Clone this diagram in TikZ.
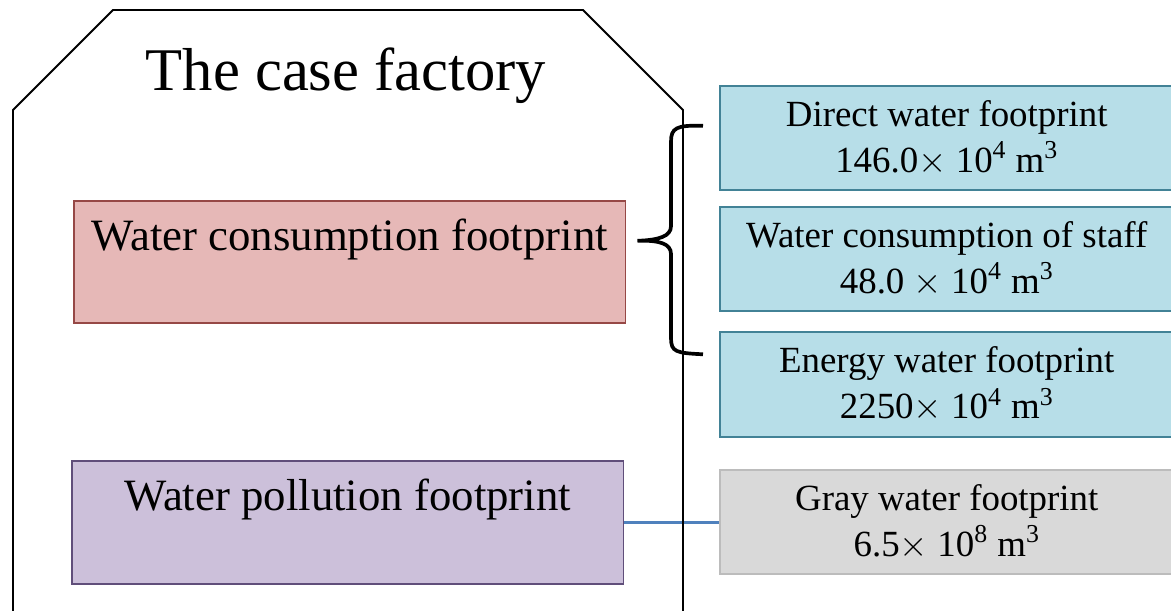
\documentclass[tikz,border=0pt]{standalone}
\usepackage{fontspec}
\setmainfont{Liberation Serif}
\usetikzlibrary{positioning,calc}

\definecolor{consfill}{RGB}{230,184,183}
\definecolor{consline}{RGB}{150,72,70}
\definecolor{pollfill}{RGB}{204,192,218}
\definecolor{pollline}{RGB}{96,78,122}
\definecolor{partfill}{RGB}{183,222,232}
\definecolor{partline}{RGB}{66,130,150}
\definecolor{grayfill}{RGB}{217,217,217}
\definecolor{grayline}{RGB}{188,188,188}
\definecolor{linkblue}{RGB}{79,129,189}

\begin{document}
\begin{tikzpicture}[x=0.02cm,y=-0.02cm,
  bigbox/.style={draw, line width=0.9pt, inner sep=0pt, minimum width=11.04cm,
    anchor=north west, text height=1cm, font=\fontsize{25.5}{31}\selectfont},
  partbox/.style={draw=partline, fill=partfill, line width=0.9pt, inner sep=0pt,
    minimum width=9.08cm, minimum height=2.08cm, anchor=north west, align=center,
    font=\fontsize{21}{26}\selectfont}]
  \useasboundingbox (0,0) rectangle (1171,610);

  % Left boxes: consumption and pollution
  \node[bigbox, draw=consline, fill=consfill, text depth=1.44cm] (cons) at (73,200)
    {Water consumption footprint};
  \node[bigbox, draw=pollline, fill=pollfill, text depth=1.46cm] (poll) at (71,460)
    {Water pollution footprint};

  % Right boxes: parts of the footprint
  \node[partbox] (direct) at (719,85)
    {Direct water footprint\\146.0\(\times\) 10\textsuperscript{4} m\textsuperscript{3}};
  \node[partbox] (staff) at (719,206)
    {Water consumption of staff\\48.0 \(\times\) 10\textsuperscript{4} m\textsuperscript{3}};
  \node[partbox, minimum height=2.1cm] (energy) at (719,331)
    {Energy water footprint\\2250\(\times\) 10\textsuperscript{4} m\textsuperscript{3}};
  \node[partbox, draw=grayline, fill=grayfill] (gray) at (719,469)
    {Gray water footprint\\6.5\(\times\) 10\textsuperscript{8} m\textsuperscript{3}};

  % Brace from the consumption box to the three parts
  \coordinate (tip) at ($(cons.east)+(11,-21)$);
  \coordinate (armtop) at ($(direct.west)+(-16,-12)$);
  \coordinate (armbot) at ($(energy.west)+(-16,-30)$);
  \draw[line width=2.1pt] (armtop) .. controls (676,125) and (671,128) .. (671,142)
    -- (671,226) .. controls (671,236) and (660,240) .. (tip)
    .. controls (660,240) and (671,244) .. (671,254)
    -- (671,338) .. controls (671,352) and (676,353) .. (armbot);

  % Link from the pollution box to the gray box
  \draw[linkblue, line width=1.7pt] (poll.east) -- (poll.east -| gray.west);

  % Outline of the factory
  \draw[line width=1.1pt] (13,615) -- (13,110) -- (113,10) -- (583,10)
    -- (683,110) -- (683,615);
  \node[anchor=base, font=\fontsize{34.5}{41}\selectfont] (title) at (346,90)
    {The case factory};
\end{tikzpicture}
\end{document}
